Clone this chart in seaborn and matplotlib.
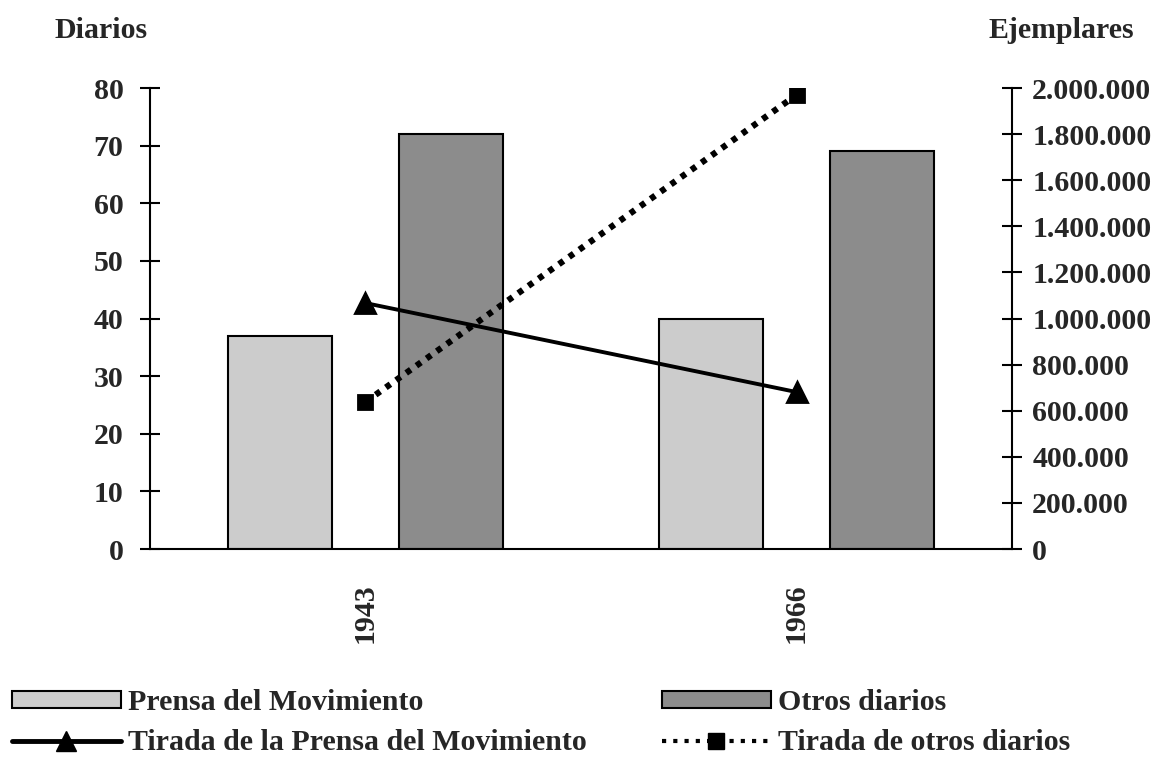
import pandas as pd
import matplotlib
matplotlib.use("Agg")
import matplotlib.pyplot as plt
import seaborn as sns
from matplotlib.ticker import FuncFormatter, MultipleLocator
from matplotlib.patches import Patch
from matplotlib.lines import Line2D

# Datos
anios = ['1943', '1966']
diarios_movimiento = [37, 40]
diarios_otros = [72, 69]
tirada_movimiento = [1067000, 681000]
tirada_otros = [638000, 1970000]

df_barras = pd.DataFrame({
    'anio': anios * 2,
    'serie': ['Prensa del Movimiento'] * 2 + ['Otros diarios'] * 2,
    'diarios': diarios_movimiento + diarios_otros,
})
df_tirada = pd.DataFrame({
    'anio': anios * 2,
    'serie': ['Tirada de la Prensa del Movimiento'] * 2 + ['Tirada de otros diarios'] * 2,
    'ejemplares': tirada_movimiento + tirada_otros,
})

sns.set_style('white')
plt.rcParams['font.family'] = ['Liberation Serif', 'DejaVu Serif']
plt.rcParams['font.weight'] = 'bold'
fs = 21.5

fig = plt.figure(figsize=(11.57, 7.6), dpi=100)
ax = fig.add_axes([0.1296, 0.2776, 0.7451, 0.6066])

colores_barras = ['#cccccc', '#8c8c8c']
sns.barplot(data=df_barras, x='anio', y='diarios', hue='serie', order=anios,
            palette=colores_barras, edgecolor='black', linewidth=1.5,
            width=0.79, gap=0.39, legend=False, ax=ax)

ax2 = ax.twinx()
sns.pointplot(data=df_tirada, x='anio', y='ejemplares', hue='serie', order=anios,
              palette=['black', 'black'], markers=['^', 's'],
              linestyles=['-', ':'], legend=False, ax=ax2)
for ln in ax2.lines:
    if ln.get_marker() == '^':
        ln.set_linewidth(2.8)
        ln.set_markersize(14)
    elif ln.get_marker() == 's':
        ln.set_linestyle((0, (0.9, 1.1)))
        ln.set_linewidth(4.5)
        ln.set_markersize(10)

ax.set_xlim(-0.5, 1.5)
ax.set_ylim(0, 80)
ax2.set_ylim(0, 2000000)
ax.yaxis.set_major_locator(MultipleLocator(10))
ax2.yaxis.set_major_locator(MultipleLocator(200000))
ax2.yaxis.set_major_formatter(FuncFormatter(lambda v, p: f"{int(v):,}".replace(',', '.')))

# ejes tipo Excel
for a in (ax, ax2):
    a.spines['top'].set_visible(False)
    for s in ('left', 'right', 'bottom'):
        a.spines[s].set_linewidth(1.5)
        a.spines[s].set_color('black')
    a.grid(False)
ax.spines['right'].set_visible(False)
ax2.spines['left'].set_visible(False)
ax2.spines['bottom'].set_visible(False)

ax.set_xticks([-0.5, 0.5, 1.5], minor=False)
ax.set_xticklabels(['', '', ''])
ax.set_xticks([0, 1], minor=True)
ax.set_xticklabels(anios, minor=True, rotation=90, fontsize=fs, fontweight='bold')
ax.tick_params(axis='x', which='major', direction='inout', length=18, width=1.5, color='black')
ax.tick_params(axis='x', which='minor', length=0, pad=25)
ax.tick_params(axis='y', direction='inout', length=14, width=1.5, color='black',
               labelsize=fs, pad=12)
ax2.tick_params(axis='y', direction='inout', length=14, width=1.5, color='black',
                labelsize=fs, pad=7.5)
for lab in ax.get_yticklabels() + ax2.get_yticklabels():
    lab.set_fontweight('bold')

ax.set_xlabel('')
ax.set_ylabel('')
ax2.set_ylabel('')
fig.text(101 / 1157, 1 - 37.5 / 760, 'Diarios', ha='center', va='baseline',
         fontsize=fs, fontweight='bold')
fig.text(1061 / 1157, 1 - 37.5 / 760, 'Ejemplares', ha='center', va='baseline',
         fontsize=fs, fontweight='bold')

handles = [
    Patch(facecolor=colores_barras[0], edgecolor='black', linewidth=1.5),
    Line2D([], [], color='black', lw=3.5, marker='^', markersize=15),
    Patch(facecolor=colores_barras[1], edgecolor='black', linewidth=1.5),
    Line2D([], [], color='black', lw=3, linestyle=(0, (1, 1.7)), marker='s', markersize=11),
]
etiquetas = ['Prensa del Movimiento', 'Tirada de la Prensa del Movimiento',
             'Otros diarios', 'Tirada de otros diarios']
fig.legend(handles, etiquetas, loc='upper left', bbox_to_anchor=(12 / 1157, 1 - 689 / 760),
           ncol=2, frameon=False, prop={'weight': 'bold', 'size': fs},
           handlelength=3.65, handleheight=0.5, handletextpad=0.25,
           columnspacing=2.5, labelspacing=0.45, borderpad=0, borderaxespad=0)

fig.savefig('out.png', dpi=100)
